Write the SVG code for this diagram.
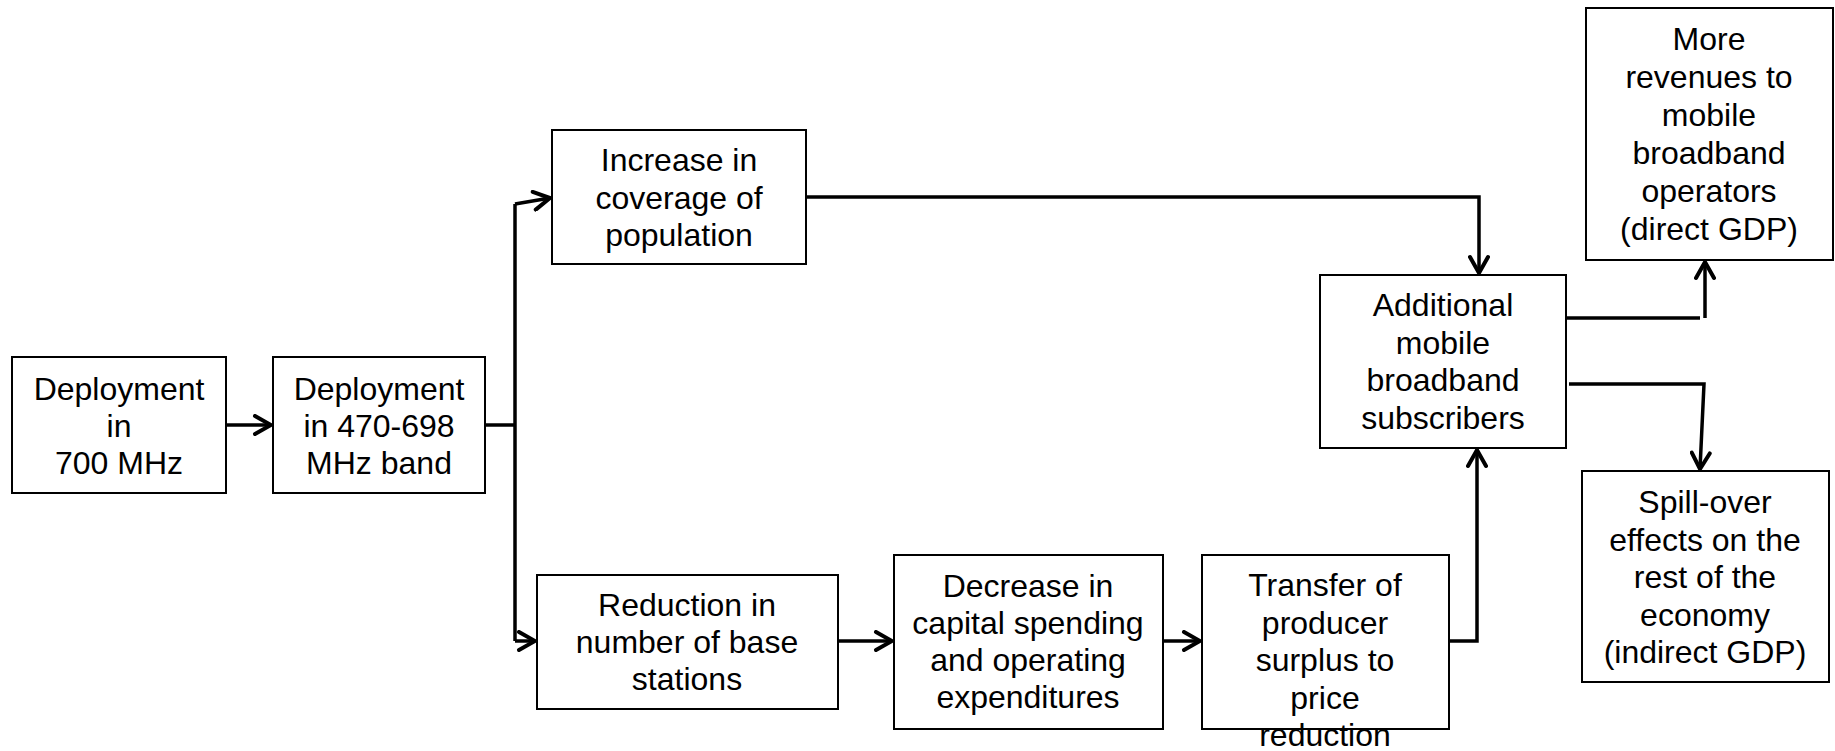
<svg xmlns="http://www.w3.org/2000/svg" width="1835" height="751" viewBox="0 0 1835 751">
<style>
.box{fill:#fff;stroke:#000;stroke-width:2}
.t{font-family:"Liberation Sans",Arial,sans-serif;font-size:32px;fill:#000;text-anchor:middle}
.c{fill:none;stroke:#000;stroke-width:3.5;stroke-linejoin:miter}
</style>
<defs>
<marker id="ah" viewBox="0 0 22 22" markerWidth="22" markerHeight="22" refX="19" refY="11" orient="auto" markerUnits="userSpaceOnUse">
<path d="M3,2 L19,11 L3,20" fill="none" stroke="#000" stroke-width="4" stroke-linecap="round" stroke-linejoin="miter"/>
</marker>
</defs>
<rect width="1835" height="751" fill="#fff"/>
<g id="connectors">
<line class="c" x1="226" y1="425" x2="271" y2="425" marker-end="url(#ah)"/>
<polyline class="c" points="485,425 515,425"/>
<line class="c" x1="515" y1="204" x2="515" y2="641"/>
<polyline class="c" points="515,204 550,198" marker-end="url(#ah)"/>
<polyline class="c" points="515,641 535,641" marker-end="url(#ah)"/>
<line class="c" x1="838" y1="641" x2="892" y2="641" marker-end="url(#ah)"/>
<line class="c" x1="1163" y1="641" x2="1200" y2="641" marker-end="url(#ah)"/>
<polyline class="c" points="1449,641 1477,641 1477,450" marker-end="url(#ah)"/>
<polyline class="c" points="806,197 1479,197 1479,273" marker-end="url(#ah)"/>
<polyline class="c" points="1566,318 1700,318"/>
<line class="c" x1="1705" y1="318" x2="1705" y2="262" marker-end="url(#ah)"/>
<polyline class="c" points="1569,384 1704,384 1700,469" marker-end="url(#ah)"/>
</g>
<g id="n1"><rect class="box" x="12" y="357" width="214" height="136"/>
<text class="t" y="400"><tspan x="119">Deployment</tspan><tspan x="119" dy="37">in</tspan><tspan x="119" dy="37">700 MHz</tspan></text></g>
<g id="n2"><rect class="box" x="273" y="357" width="212" height="136"/>
<text class="t" y="400"><tspan x="379">Deployment</tspan><tspan x="379" dy="37">in 470-698</tspan><tspan x="379" dy="37">MHz band</tspan></text></g>
<g id="n3"><rect class="box" x="552" y="130" width="254" height="134"/>
<text class="t" y="171"><tspan x="679">Increase in</tspan><tspan x="679" dy="37.5">coverage of</tspan><tspan x="679" dy="37.5">population</tspan></text></g>
<g id="n4"><rect class="box" x="537" y="575" width="301" height="134"/>
<text class="t" y="616"><tspan x="687">Reduction in</tspan><tspan x="687" dy="37">number of base</tspan><tspan x="687" dy="37">stations</tspan></text></g>
<g id="n5"><rect class="box" x="894" y="555" width="269" height="174"/>
<text class="t" y="597"><tspan x="1028">Decrease in</tspan><tspan x="1028" dy="37">capital spending</tspan><tspan x="1028" dy="37">and operating</tspan><tspan x="1028" dy="37">expenditures</tspan></text></g>
<g id="n6"><rect class="box" x="1202" y="555" width="247" height="174"/>
<text class="t" y="596"><tspan x="1325">Transfer of</tspan><tspan x="1325" dy="37.5">producer</tspan><tspan x="1325" dy="37.5">surplus to</tspan><tspan x="1325" dy="37.5">price</tspan><tspan x="1325" dy="37.5">reduction</tspan></text></g>
<g id="n7"><rect class="box" x="1320" y="275" width="246" height="173"/>
<text class="t" y="316"><tspan x="1443">Additional</tspan><tspan x="1443" dy="37.5">mobile</tspan><tspan x="1443" dy="37.5">broadband</tspan><tspan x="1443" dy="37.5">subscribers</tspan></text></g>
<g id="n8"><rect class="box" x="1586" y="8" width="247" height="252"/>
<text class="t" y="50"><tspan x="1709">More</tspan><tspan x="1709" dy="38">revenues to</tspan><tspan x="1709" dy="38">mobile</tspan><tspan x="1709" dy="38">broadband</tspan><tspan x="1709" dy="38">operators</tspan><tspan x="1709" dy="38">(direct GDP)</tspan></text></g>
<g id="n9"><rect class="box" x="1582" y="471" width="247" height="211"/>
<text class="t" y="513"><tspan x="1705">Spill-over</tspan><tspan x="1705" dy="37.5">effects on the</tspan><tspan x="1705" dy="37.5">rest of the</tspan><tspan x="1705" dy="37.5">economy</tspan><tspan x="1705" dy="37.5">(indirect GDP)</tspan></text></g>
</svg>
